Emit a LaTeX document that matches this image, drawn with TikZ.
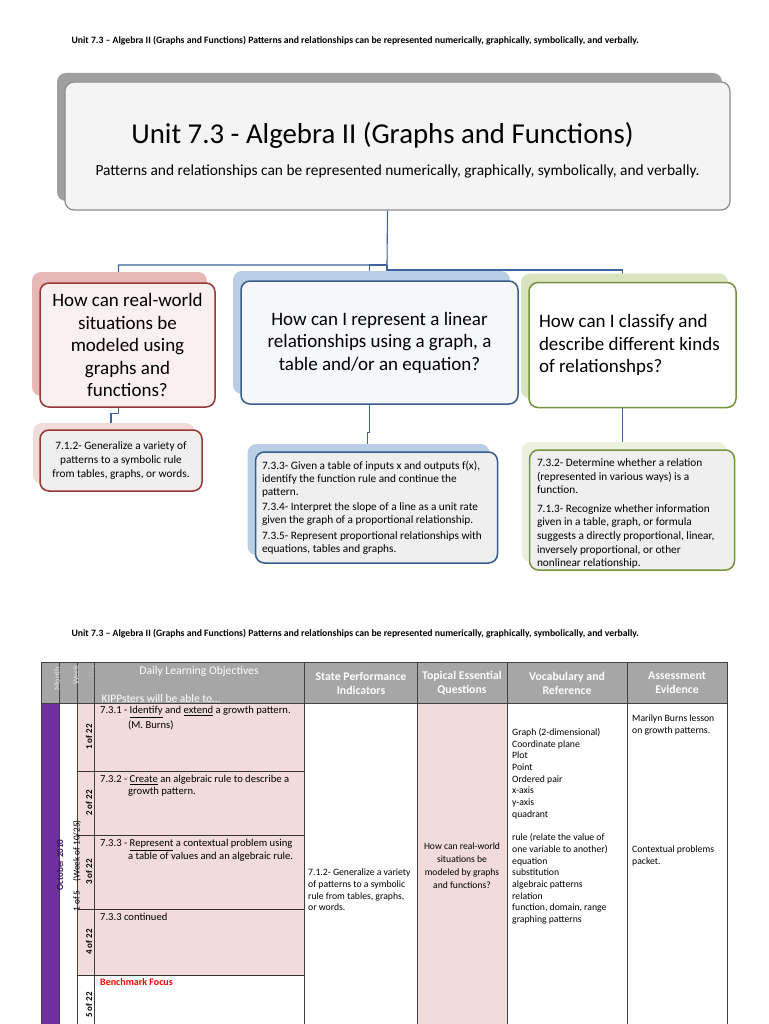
\documentclass[tikz,border=0pt]{standalone}
\usepackage{fontspec}
\setmainfont{Carlito}
\usetikzlibrary{shadows}

\definecolor{unitline}{HTML}{8C8C8C}
\definecolor{unitfill}{HTML}{F4F4F4}
\definecolor{unitshade}{HTML}{A0A0A0}
\definecolor{redline}{HTML}{953735}
\definecolor{redshade}{HTML}{E6B9B8}
\definecolor{redfill}{HTML}{FBF0F0}
\definecolor{redlight}{HTML}{F2DCDB}
\definecolor{blueline}{HTML}{385D8A}
\definecolor{blueshade}{HTML}{B9CDE5}
\definecolor{bluefill}{HTML}{F5F7FA}
\definecolor{greenline}{HTML}{77933C}
\definecolor{greenshade}{HTML}{D7E4BD}
\definecolor{greenlight}{HTML}{EBF1DE}
\definecolor{detailfill}{HTML}{EFEFEF}
\definecolor{linkblue}{HTML}{3B64A0}
\definecolor{headgray}{HTML}{A6A6A6}
\definecolor{pinkcell}{HTML}{F2DCDB}
\definecolor{purplecell}{HTML}{7030A0}
\definecolor{darkpurple}{HTML}{3A1460}

\pgfdeclarelayer{back}
\pgfsetlayers{back,main}

\begin{document}
\begin{tikzpicture}[x=1pt, y=-1pt,
        box/.style={rectangle, rounded corners=9pt, line width=1.5pt, inner sep=0pt, align=center},
        unitbox/.style={box, draw=unitline, fill=unitfill, line width=1.2pt, general shadow={fill=unitshade, shadow xshift=-8pt, shadow yshift=9pt}},
        redq/.style={box, draw=redline, fill=redfill, general shadow={fill=redshade, shadow xshift=-8pt, shadow yshift=11pt}},
        blueq/.style={box, draw=blueline, fill=bluefill, general shadow={fill=blueshade, shadow xshift=-8pt, shadow yshift=10pt}},
        greenq/.style={box, draw=greenline, fill=white, general shadow={fill=greenshade, shadow xshift=-8pt, shadow yshift=9pt}},
        redd/.style={box, draw=redline, fill=detailfill, general shadow={fill=redlight, shadow xshift=-7pt, shadow yshift=7pt}},
        blued/.style={box, draw=blueline, fill=detailfill, general shadow={fill=blueshade, shadow xshift=-8pt, shadow yshift=8pt}},
        greend/.style={box, draw=greenline, fill=detailfill, general shadow={fill=greenlight, shadow xshift=-8pt, shadow yshift=8pt}},
        question/.style={font=\fontsize{19}{22.5}\selectfont},
        detail/.style={font=\fontsize{11.3}{13}\selectfont},
        link/.style={draw=linkblue, line width=1.1pt},
        pagehead/.style={font=\fontsize{9.7}{11}\bfseries\selectfont, anchor=west},
        gridline/.style={draw=black!75, line width=1pt},
        rowline/.style={draw=black!80, line width=0.8pt},
        headtext/.style={font=\fontsize{11.8}{14}\bfseries\selectfont, text=white, align=center},
        sidelab/.style={rotate=90, font=\fontsize{9}{10}\bfseries\selectfont},
        cell/.style={font=\fontsize{10.6}{13}\selectfont, anchor=west, inner sep=0pt},
        small/.style={font=\fontsize{9.7}{11.7}\selectfont, align=left, inner sep=0pt}
    ]
    \useasboundingbox (0,0) rectangle (768,1024);

    % Page header
    \node[pagehead] (head1) at (68,41) {Unit 7.3 – Algebra II (Graphs and Functions) Patterns and relationships can be represented numerically, graphically, symbolically, and verbally.};

    % Unit bubble
    \node[unitbox, minimum width=665pt, minimum height=128pt] (unit) at (397.5,146)
        {\rule{0pt}{30pt}\fontsize{28.8}{32}\selectfont Unit 7.3 - Algebra II (Graphs and Functions)\hspace*{30pt}\\[15pt]
         \fontsize{15.4}{17}\selectfont Patterns and relationships can be represented numerically, graphically, symbolically, and verbally.};

    % Essential questions
    \node[redq, question, minimum width=175pt, minimum height=124pt] (q1) at (127.5,345)
        {How can real-world\\situations be\\modeled using\\graphs and\\functions?};
    \node[blueq, question, minimum width=277pt, minimum height=123pt] (q2) at (379.5,342.5)
        {How can I represent a linear\\relationships using a graph, a\\table and/or an equation?};
    \node[greenq, question, minimum width=207pt, minimum height=125pt, align=flush left, text width=187pt] (q3) at (632.5,345)
        {How can I classify and\\describe different kinds\\of relationshps?};

    % Standards under each question
    \node[redd, detail, minimum width=162pt, minimum height=61pt, font=\fontsize{11.3}{14}\selectfont] (d1) at (121,460.5)
        {7.1.2- Generalize a variety of\\patterns to a symbolic rule\\from tables, graphs, or words.};
    \node[blued, detail, minimum width=242pt, minimum height=111pt, align=flush left, text width=229pt] (d2) at (376.5,507.5)
        {7.3.3- Given a table of inputs x and outputs f(x),\\identify the function rule and continue the\\pattern.\\[2.5pt]
         7.3.4- Interpret the slope of a line as a unit rate\\given the graph of a proportional relationship.\\[2.5pt]
         7.3.5- Represent proportional relationships with\\equations, tables and graphs.};
    \node[greend, detail, minimum width=205pt, minimum height=120pt, align=flush left, text width=190pt, font=\fontsize{11.3}{13.6}\selectfont] (d3) at (632,510)
        {\rule{0pt}{15pt}7.3.2- Determine whether a relation\\(represented in various ways) is a\\function.\\[5pt]
         7.1.3- Recognize whether information\\given in a table, graph, or formula\\suggests a directly proportional, linear,\\inversely proportional, or other\\nonlinear relationship.};

    % Connectors
    \coordinate (hub) at (387,265);
    \begin{pgfonlayer}{back}
        \draw[link] ([xshift=-10pt]unit.south) -- (hub) -| ([xshift=-9pt]q1.north);
        \draw[link] (hub) -| ([xshift=-10pt]q2.north);
        \draw[link] (hub) -- ++(0,5) -| ([xshift=-10pt]q3.north);
        \draw[link] ([xshift=-9pt]q1.south) -- ++(0,6) -| ([xshift=-10pt]d1.north);
        \draw[link] ([xshift=-10pt]q2.south) -- ++(0,28) -| ([xshift=-9pt]d2.north);
        \draw[link] ([xshift=-10pt]q3.south) -- ([xshift=-10pt]q3.south |- d3.north);
    \end{pgfonlayer}

    % Second page header
    \node[pagehead] (head2) at (68,634) {Unit 7.3 – Algebra II (Graphs and Functions) Patterns and relationships can be represented numerically, graphically, symbolically, and verbally.};

    % Table cells
    \fill[headgray] (41,662) rectangle (727,703);
    \fill[pinkcell] (77,703) rectangle (304,975);
    \fill[pinkcell] (417,703) rectangle (507,1030);
    \fill[purplecell] (41,703) rectangle (59,1030);

    % Table rules
    \draw[gridline] (41,1030) -- (41,662) -- (727,662) -- (727,1030);
    \draw[gridline] (41,703) -- (727,703);
    \foreach \cx in {59,77,94,304,417,507,627}
        \draw[gridline] (\cx,662) -- (\cx,1030);
    \foreach \ry in {771,835,909,975}
        \draw[rowline] (77,\ry) -- (304,\ry);

    % Table header
    \node[sidelab, text=white!88!black, font=\fontsize{8.5}{9}\selectfont] (hmonth) at (57,679) {Month};
    \node[sidelab, text=white!88!black, font=\fontsize{8.5}{9}\selectfont] (hweek) at (76,675) {Week};
    \node[sidelab, text=white!70!black, font=\fontsize{8.5}{9}\selectfont] (hday) at (92,671) {Day};
    \node[headtext, font=\fontsize{11.7}{14}\selectfont] (hobj) at (199,671) {Daily Learning Objectives};
    \node[headtext, font=\fontsize{11.5}{14}\selectfont, anchor=west] (hkipp) at (98,699) {KIPPsters will be able to…};
    \node[headtext] (hspi) at (361,683) {State Performance\\Indicators};
    \node[headtext] (hteq) at (462,683) {Topical Essential\\Questions};
    \node[headtext] (hvoc) at (567,683) {Vocabulary and\\Reference};
    \node[headtext] (hass) at (677,683) {Assessment\\Evidence};

    % Month, week and day labels
    \node[sidelab, text=darkpurple] (month) at (60,865) {October 2010};
    \node[sidelab, font=\fontsize{9.2}{10}\selectfont] (week) at (77,866) {1 of 5\quad(Week of 10/25)};
    \foreach \dy/\dn in {737/1, 803/2, 872/3, 942/4, 1005/5}
        \node[sidelab] (day\dn) at (89,\dy) {\dn\ of 22};

    % Daily objectives
    \node[cell] (obj1) at (100,712) {7.3.1 - \underline{Identify} and \underline{extend} a growth pattern.};
    \node[cell] (obj1b) at (128,725) {(M. Burns)};
    \node[cell] (obj2) at (100,780) {7.3.2 - \underline{Create} an algebraic rule to describe a};
    \node[cell] (obj2b) at (128,792) {growth pattern.};
    \node[cell] (obj3) at (100,845) {7.3.3 - \underline{Represent} a contextual problem using};
    \node[cell] (obj3b) at (128,857) {a table of values and an algebraic rule.};
    \node[cell] (obj4) at (100,917) {7.3.3 continued};
    \node[cell, text=red, font=\fontsize{10}{13}\bfseries\selectfont] (obj5) at (100,982) {Benchmark Focus};

    % Other columns
    \node[small, anchor=west] (spi) at (308,890) {7.1.2- Generalize a variety\\of patterns to a symbolic\\rule from tables, graphs,\\or words.};
    \node[small, align=center, font=\fontsize{9.6}{13}\selectfont] (teq) at (462,866) {How can real-world\\situations be\\modeled by graphs\\and functions?};
    \node[small, anchor=north west] (voc) at (512,728) {Graph (2-dimensional)\\Coordinate plane\\Plot\\Point\\Ordered pair\\x-axis\\y-axis\\quadrant\\[11.7pt]rule (relate the value of\\one variable to another)\\equation\\substitution\\algebraic patterns\\relation\\function, domain, range\\graphing patterns};
    \node[small, anchor=north west] (ass1) at (632,715) {Marilyn Burns lesson\\on growth patterns.};
    \node[small, anchor=north west] (ass2) at (632,846) {Contextual problems\\packet.};
\end{tikzpicture}
\end{document}
